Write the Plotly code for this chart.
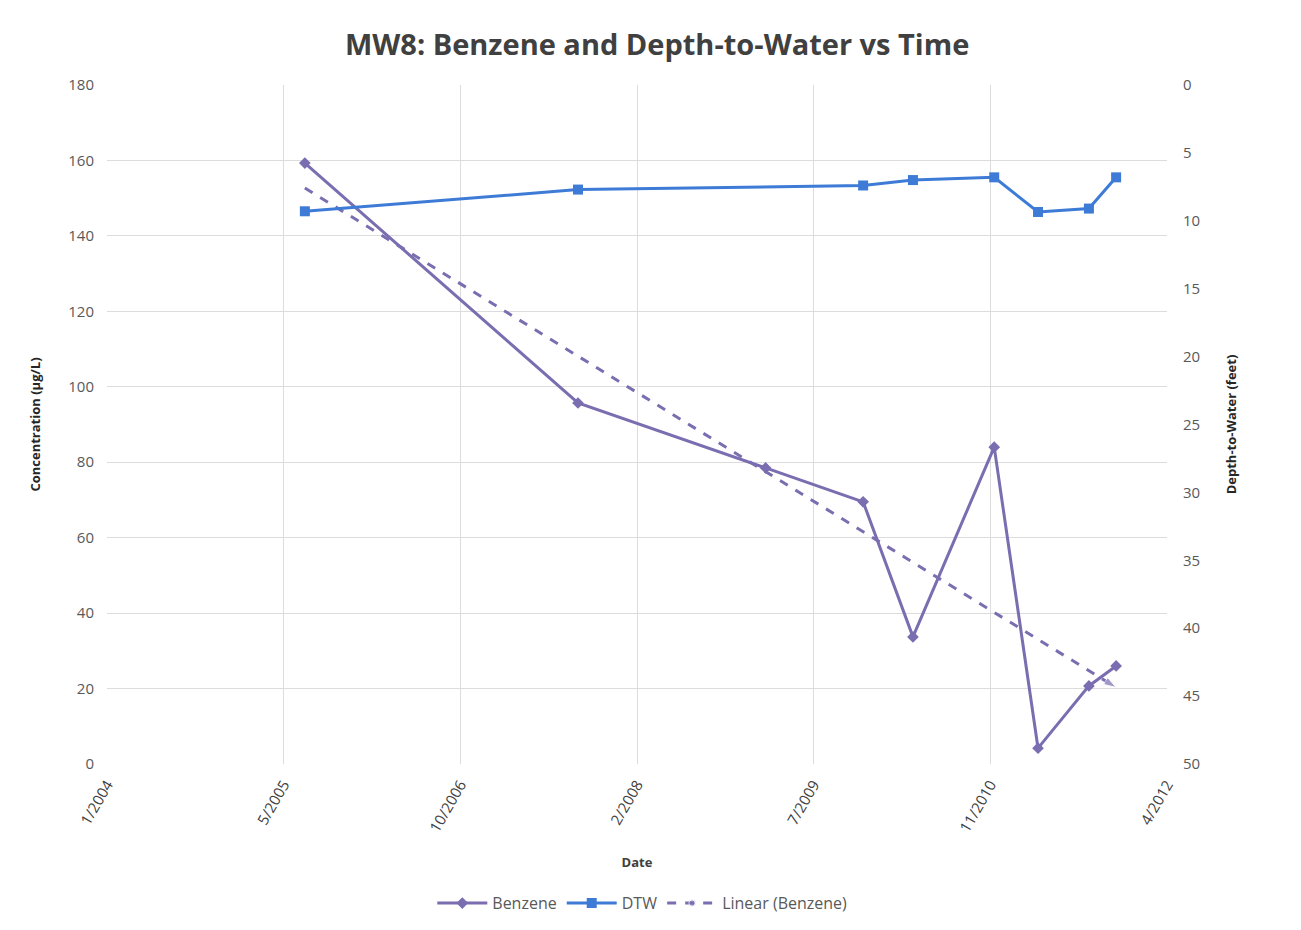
import numpy as np
import pandas as pd
import plotly.graph_objects as go

# ---- data ----
benzene_dates = ["2005-07-27", "2007-09-08", "2009-02-20", "2009-11-23", "2010-04-13",
                 "2010-11-29", "2011-04-02", "2011-08-24", "2011-11-09"]
benzene_vals = [159.3, 95.7, 78.5, 69.5, 33.7, 84.0, 4.2, 20.7, 26.0]

dtw_dates = ["2005-07-27", "2007-09-08", "2009-11-23", "2010-04-13", "2010-11-29",
             "2011-04-02", "2011-08-24", "2011-11-09"]
dtw_vals = [9.3, 7.7, 7.4, 7.0, 6.8, 9.35, 9.1, 6.8]

tick_dates = ["2004-01-14", "2005-05-28", "2006-10-10", "2008-02-22",
              "2009-07-06", "2010-11-18", "2012-04-01"]
tick_labels = ["1/2004", "5/2005", "10/2006", "2/2008", "7/2009", "11/2010", "4/2012"]

conc_ticks = [0, 20, 40, 60, 80, 100, 120, 140, 160, 180]
dtw_ticks = [0, 5, 10, 15, 20, 25, 30, 35, 40, 45, 50]

# ---- linear trendline of benzene (least squares on date) ----
bd = pd.to_datetime(benzene_dates)
days = (bd - bd[0]).days.values.astype(float)
slope, intercept = np.polyfit(days, benzene_vals, 1)
trend_x = [bd[0], bd[-1]]
trend_y = [intercept, intercept + slope * days[-1]]

purple = "#7A6DB0"
blue = "#3D7BD6"
grid = "#DCDCDC"
font_family = "Open Sans, Liberation Sans, sans-serif"

fig = go.Figure()
fig.add_trace(go.Scatter(
    x=benzene_dates, y=benzene_vals, name="Benzene", mode="lines+markers",
    line=dict(color=purple, width=3),
    marker=dict(symbol="diamond", size=9, color=purple),
    yaxis="y"))
fig.add_trace(go.Scatter(
    x=dtw_dates, y=dtw_vals, name="DTW", mode="lines+markers",
    line=dict(color=blue, width=3),
    marker=dict(symbol="square", size=10, color=blue),
    yaxis="y2"))
fig.add_trace(go.Scatter(
    x=trend_x, y=trend_y, name="Linear (Benzene)", mode="lines+markers",
    line=dict(color=purple, width=3, dash="dash"),
    marker=dict(symbol=["circle", "arrow"], size=[0, 13], angleref="previous",
                color=purple),
    yaxis="y"))

fig.update_layout(
    width=1301, height=930,
    paper_bgcolor="white", plot_bgcolor="white",
    margin=dict(l=99, r=142, t=77, b=174),
    font=dict(family=font_family, color="#595959", size=13),
    title=dict(text="<b>MW8: Benzene and Depth-to-Water vs Time</b>",
               x=0.519, xref="paper", xanchor="center", y=0.96, yanchor="middle",
               font=dict(size=29, color="#404040", family=font_family)),
    xaxis=dict(type="date", range=["2004-01-14", "2012-04-01"],
               tickvals=tick_dates, ticktext=tick_labels, tickangle=-60,
               showgrid=True, gridcolor=grid, gridwidth=1,
               showline=False, zeroline=False, ticklabelstandoff=8,
               tickfont=dict(size=15, color="#404040"),
               title=dict(text="<b>Date</b>", font=dict(size=13, color="#404040"), standoff=23)),
    yaxis=dict(range=[0, 180], tickvals=conc_ticks, showgrid=True, gridcolor=grid,
               zeroline=False, showline=False, ticks="", ticklabelstandoff=12,
               tickfont=dict(size=15, color="#595959"),
               title=dict(text="<b>Concentration (µg/L)</b>", font=dict(size=13, color="#262626"),
                          standoff=24)),
    yaxis2=dict(range=[50, 0], tickvals=dtw_ticks, overlaying="y", side="right",
                showgrid=False, zeroline=False, showline=False, ticklabelstandoff=15,
                tickfont=dict(size=15, color="#595959"),
                title=dict(text="<b>Depth-to-Water (feet)</b>", font=dict(size=13, color="#262626"),
                           standoff=27)),
    legend=dict(orientation="h", x=0.505, xanchor="center", y=-0.205, yanchor="middle",
                font=dict(size=16, color="#595959"), itemwidth=50),
    showlegend=True,
)

fig.write_html("out.html")
